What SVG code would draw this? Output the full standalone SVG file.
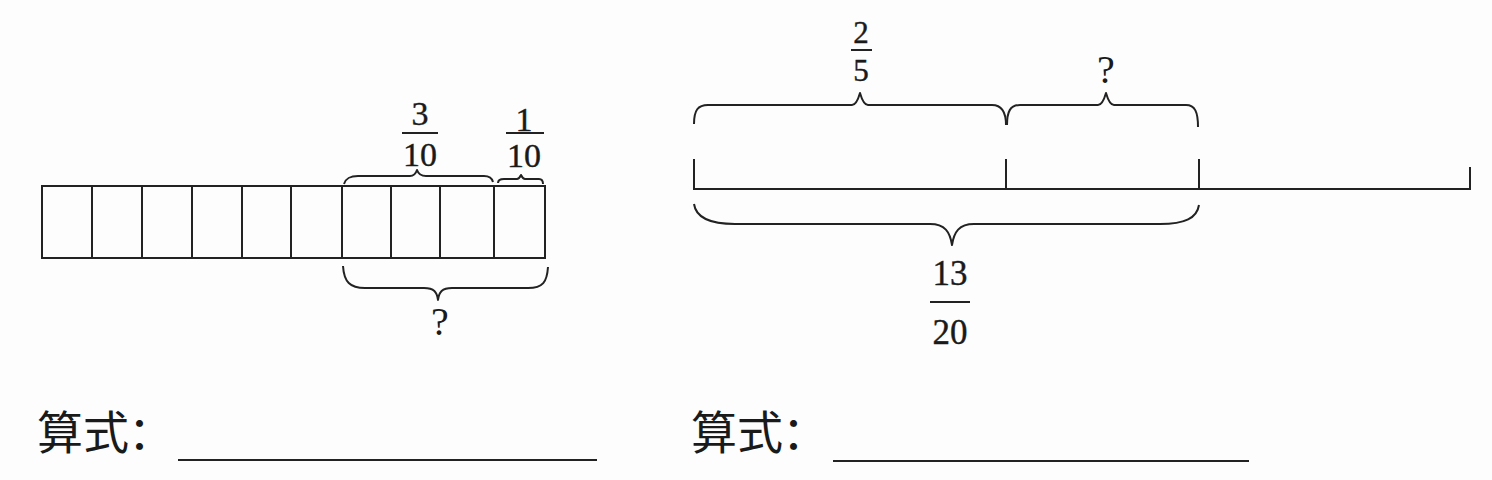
<svg xmlns="http://www.w3.org/2000/svg" width="1492" height="480" viewBox="0 0 1492 480">
<style>
.ln{stroke:#222;stroke-width:2;fill:none;stroke-linecap:square}
.br{stroke:#222;stroke-width:2;fill:none;stroke-linejoin:round}
.num{font-family:"Liberation Serif","Times New Roman",serif;font-size:34px;fill:#1a1a1a;stroke:#1a1a1a;stroke-width:0.4;text-anchor:middle}
.q{font-family:"Liberation Serif","Times New Roman",serif;font-size:40px;fill:#1a1a1a;text-anchor:middle}
.cn{font-family:"Liberation Serif","Noto Sans CJK SC",serif;font-size:46px;fill:#1a1a1a}
</style>
<rect width="1492" height="480" fill="#fdfdfd"/>
<g id="left-bar">
<rect class="ln" x="42" y="186" width="503" height="72"/>
<path class="ln" d="M92,186V258M142,186V258M192,186V258M242,186V258M291,186V258M342,186V258M391,186V258M440,186V258M494,186V258"/>
</g>
<g id="left-braces">
<path class="br" d="M344,184 C346,178 350,176 358,176 L410,176 C414,176 416,173 417,170 C418,173 421,176 426,176 L484,176 C489,176 492,178 493,182"/>
<path class="br" d="M498,183 C498,180 500,179 504,179 L517,179 C519,179 520,177 521,175 C522,177 523,179 525,179 L539,179 C542,179 543,181 543,184"/>
<path class="br" d="M343,266 C344,282 350,288 365,288 L424,288 C434,288 437,292 438,300 C439,292 442,288 452,288 L528,288 C543,288 547,282 548,267"/>
</g>
<g id="left-labels">
<text class="num" x="420" y="125">3</text>
<line class="ln" x1="403" y1="133" x2="437" y2="133"/>
<text class="num" x="420" y="166">10</text>
<text class="num" x="524" y="131">1</text>
<line class="ln" x1="507" y1="133" x2="543" y2="133"/>
<text class="num" x="524" y="167">10</text>
<text class="q" x="440" y="335">?</text>
</g>
<g id="right-line">
<path class="ln" d="M694,160V189H1470V168M1006,160V189M1199,160V189"/>
</g>
<g id="right-braces">
<path class="br" d="M694,124 C694,110 698,105 708,105 L852,105 C856,105 858,100 860,93 C862,100 864,105 868,105 L992,105 C1002,105 1006,112 1006,125"/>
<path class="br" d="M1007,125 C1007,112 1010,105 1020,105 L1098,105 C1102,105 1104,100 1106,93 C1108,100 1110,105 1114,105 L1186,105 C1195,105 1198,112 1198,127"/>
<path class="br" d="M694,204 C696,218 712,224 735,224 L930,224 C945,224 950,232 952,245 C954,232 959,224 974,224 L1160,224 C1185,224 1197,218 1199,205"/>
</g>
<g id="right-labels">
<text class="num" x="861" y="43" style="font-size:31px">2</text>
<line class="ln" x1="852" y1="50" x2="871" y2="50"/>
<text class="num" x="861" y="81" style="font-size:31px">5</text>
<text class="q" x="1106" y="83">?</text>
<text class="num" x="950" y="285" style="font-size:35px">13</text>
<line class="ln" x1="931" y1="302" x2="969" y2="302"/>
<text class="num" x="950" y="344" style="font-size:35px">20</text>
</g>
<g id="answers">
<text class="cn" x="37" y="449">算式<tspan x="128">：</tspan></text>
<line class="ln" x1="179" y1="460" x2="596" y2="460"/>
<text class="cn" x="691" y="449">算式<tspan x="782">：</tspan></text>
<line class="ln" x1="834" y1="461" x2="1248" y2="461"/>
</g>
</svg>
